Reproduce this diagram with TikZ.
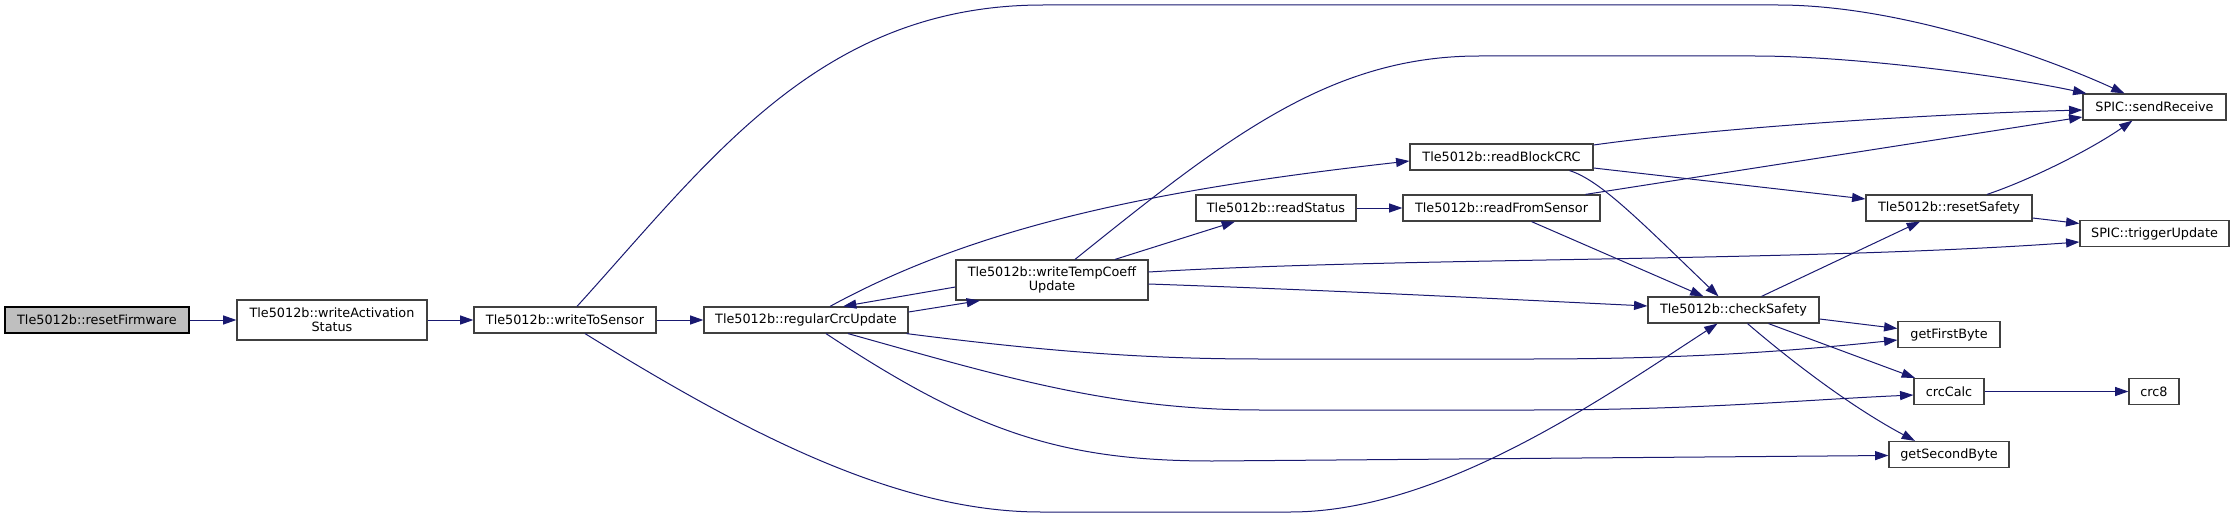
\documentclass[tikz,border=0pt]{standalone}
\usepackage{fontspec}
\newfontfamily\dvs{DejaVu Sans}
\usetikzlibrary{arrows.meta,calc}
\definecolor{edgeblue}{HTML}{191970}
\definecolor{boxline}{HTML}{404040}
\definecolor{rootfill}{HTML}{BFBFBF}
\begin{document}
\begin{tikzpicture}[x=0.75pt,y=-0.75pt,
  fn/.style={draw=boxline, line width=0.9pt, fill=white, inner sep=0pt,
    font=\dvs\fontsize{9.6pt}{10.8pt}\selectfont, align=center, minimum height=19.5pt},
  rootfn/.style={fn, draw=black, fill=rootfill},
  call/.style={draw=edgeblue, line width=0.75pt, -{Triangle[length=10pt,width=6.8pt]}},
]
\useasboundingbox (0,0) rectangle (2235,517);

% nodes
\node[rootfn, minimum width=138pt] (rf) at (97,320) {Tle5012b::resetFirmware};
\node[fn, minimum width=142.5pt, minimum height=30pt] (was) at (332,320) {Tle5012b::writeActivation\\Status};
\node[fn, minimum width=136.5pt] (wts) at (565,320) {Tle5012b::writeToSensor};
\node[fn, minimum width=153pt] (rcu) at (806,320) {Tle5012b::regularCrcUpdate};
\node[fn, minimum width=144pt, minimum height=30pt] (wtc) at (1052,280) {Tle5012b::writeTempCoeff\\Update};
\node[fn, minimum width=120pt] (rs) at (1276,208) {Tle5012b::readStatus};
\node[fn, minimum width=137.25pt] (rbc) at (1501.5,157) {Tle5012b::readBlockCRC};
\node[fn, minimum width=147.75pt] (rfs) at (1501.5,208) {Tle5012b::readFromSensor};
\node[fn, minimum width=128.25pt] (cs) at (1733.5,310) {Tle5012b::checkSafety};
\node[fn, minimum width=107.25pt] (sr) at (2154.5,107) {SPIC::sendReceive};
\node[fn, minimum width=124.5pt] (rsf) at (1949,208) {Tle5012b::resetSafety};
\node[fn, minimum width=111.75pt] (tu) at (2154.5,233.5) {SPIC::triggerUpdate};
\node[fn, minimum width=76.5pt] (gfb) at (1949,334.5) {getFirstByte};
\node[fn, minimum width=52.5pt] (cc) at (1949,391.5) {crcCalc};
\node[fn, minimum width=37.5pt] (c8) at (2154,391.5) {crc8};
\node[fn, minimum width=90pt] (gsb) at (1949,454.5) {getSecondByte};

% edges
\draw[call] (rf.east) -- (was.west);
\draw[call] (was.east) -- (wts.west);
\draw[call] (wts.east) -- (rcu.west);
\draw[call] ($(wts.north)+(12,0)$) .. controls (710,160) and (820,5) .. (1043,5)
   -- (1778,5) .. controls (1900,5) and (2045,57) .. ($(sr.north)+(-30,0)$);
\draw[call] ($(wts.south)+(20,0)$) .. controls (735,426) and (891,512) .. (1041,512)
   -- (1290,512) .. controls (1440,512) and (1600,400) .. ($(cs.south)+(-16,0)$);
\draw[call] ($(rcu.east)+(0,-8)$) -- ($(wtc.south)+(-72,0)$);
\draw[call] ($(wtc.west)+(0,7)$) -- ($(rcu.north)+(37,0)$);
\draw[call] ($(rcu.north)+(24,0)$) .. controls (980,224.5) and (1160,189) .. ($(rbc.west)+(0,4)$);
\draw[call] ($(rcu.south east)+(-2,0)$) .. controls (1050,352) and (1150,359) .. (1261,359)
   -- (1529,359) .. controls (1700,359) and (1800,350) .. ($(gfb.west)+(0,5.5)$);
\draw[call] ($(rcu.south)+(42,0)$) .. controls (1000,376) and (1110,410) .. (1261,410)
   -- (1529,410) .. controls (1700,410) and (1800,400) .. ($(cc.west)+(0,3.5)$);
\draw[call] ($(rcu.south)+(20,0)$) .. controls (976,433) and (1063,461) .. (1213,461)
   -- ($(gsb.west)+(0,1)$);
\draw[call] ($(wtc.north)+(63,0)$) -- ($(rs.south)+(-41,0)$);
\draw[call] ($(wtc.north)+(23,0)$) .. controls (1225,139) and (1329,56) .. (1479,56)
   -- (1755,56) .. controls (1850,56) and (2000,75) .. ($(sr.north west)+(4,0)$);
\draw[call] ($(wtc.east)+(0,-8)$) .. controls (1400,257) and (1800,262) .. ($(tu.west)+(0,8.5)$);
\draw[call] ($(wtc.east)+(0,4)$) .. controls (1350,291) and (1500,299) .. ($(cs.west)+(0,-4)$);
\draw[call] (rs.east) -- (rfs.west);
\draw[call] ($(rbc.east)+(0,-12)$) .. controls (1700,130) and (1900,115) .. ($(sr.west)+(0,3)$);
\draw[call] ($(rbc.east)+(0,11)$) -- ($(rsf.west)+(0,-9)$);
\draw[call] ($(rbc.south)+(68,0)$) .. controls (1600,180) and (1640,221) .. ($(cs.north)+(-15,0)$);
\draw[call] ($(rfs.north)+(84,0)$) -- ($(sr.west)+(0,10)$);
\draw[call] ($(rfs.south)+(30,0)$) -- ($(cs.north)+(-30,0)$);
\draw[call] ($(rsf.north)+(38,0)$) .. controls (2030,180) and (2090,150) .. ($(sr.south)+(-22,0)$);
\draw[call] ($(rsf.east)+(0,10)$) -- ($(tu.west)+(0,-10)$);
\draw[call] ($(cs.north)+(28,0)$) -- ($(rsf.south)+(-29,0)$);
\draw[call] ($(cs.east)+(0,9)$) -- ($(gfb.west)+(0,-6)$);
\draw[call] ($(cs.south)+(35,0)$) -- ($(cc.north)+(-34,0)$);
\draw[call] ($(cs.south)+(14,0)$) .. controls (1797,366) and (1855,409) .. ($(gsb.north)+(-34,0)$);
\draw[call] (cc.east) -- (c8.west);
\end{tikzpicture}
\end{document}
